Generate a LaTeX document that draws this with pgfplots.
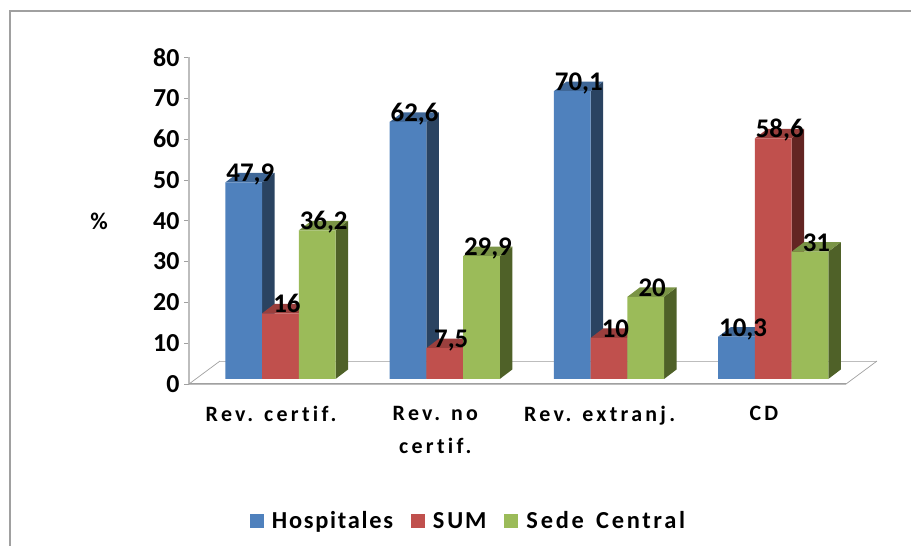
\documentclass[border=0pt]{standalone}
\usepackage{pgfplots}
\usepackage{pgfplotstable}
\usepackage{fontspec}
\pgfplotsset{compat=1.18}
\setmainfont{Carlito}
\newfontfamily\spaced[LetterSpace=15,Ligatures=NoCommon]{Carlito}
\newfontfamily\legfont[LetterSpace=7,Ligatures=NoCommon]{Carlito}
\newfontfamily\legwide[LetterSpace=11,Ligatures=NoCommon]{Carlito}
\definecolor{hf}{HTML}{4F81BD}\definecolor{hs}{HTML}{2A4361}\definecolor{ht}{HTML}{3F6797}
\definecolor{sf}{HTML}{C0504D}\definecolor{ss}{HTML}{632523}\definecolor{st}{HTML}{9A3F3D}
\definecolor{cf}{HTML}{9BBB59}\definecolor{cs}{HTML}{4F6128}\definecolor{ct}{HTML}{7A9446}
\definecolor{fr}{HTML}{A0A0A0}\definecolor{ax}{HTML}{BDBDBD}
\pgfplotstableread{
x hosp sum sede
0 47.9 16 36.2
1 62.6 7.5 29.9
2 70.1 10 20
3 10.3 58.6 31
}\datatable
\def\w{0.1117}\def\dx{0.076}\def\dy{2.31}
\newcommand\faces[4]{%
 \pgfmathsetmacro\xr{#1+\w}\pgfmathsetmacro\xb{#1+\w+\dx}%
 \pgfmathsetmacro\xl{#1-\w}\pgfmathsetmacro\xm{#1-\w+\dx}%
 \pgfmathsetmacro\yt{#2+\dy}%
 \edef\tmp{\noexpand\addplot[fill=#3,draw=none,forget plot] coordinates {(\xr,0)(\xb,\dy)(\xb,\yt)(\xr,#2)} --cycle;
 \noexpand\addplot[fill=#4,draw=none,forget plot] coordinates {(\xl,#2)(\xr,#2)(\xb,\yt)(\xm,\yt)} --cycle;}\tmp}
\begin{document}
\begin{tikzpicture}
\useasboundingbox (0,0) rectangle (911bp,546bp);
\draw[fr,line width=2bp] (10bp,0) -- (10bp,535bp) -- (911bp,535bp);
% base axis
\begin{axis}[at={(189bp,162bp)},anchor=south west,width=657bp,height=326.5bp,scale only axis,
 xmin=-0.5,xmax=3.5,ymin=0,ymax=80,
 axis lines=left,axis line style={-,ax,line width=1.3bp},clip=false,
 ytick={0,10,...,80},
 xtick={0,1,2,3},
 xticklabels={{\spaced\bfseries Rev. certif.},{\spaced\bfseries Rev. no\\[6bp]\spaced\bfseries certif.},{\spaced\bfseries Rev. extranj.},{\spaced\bfseries CD}},
 extra x ticks={-0.5,0.5,1.5,2.5,3.5},extra x tick labels={},
 extra x tick style={major tick length=5bp,tick style={color=fr,line width=0.7bp}},
 major x tick style={draw=none},
 y tick style={color=fr,line width=0.7bp},
 major tick length=5bp,tick align=outside,
 tick pos=left,
 xticklabel style={font=\fontsize{22}{27}\selectfont,align=center,yshift=-14bp,anchor=north},
 yticklabel style={font=\fontsize{26}{26}\selectfont\bfseries,xshift=-1bp},
 /pgf/number format/assume math mode=true,
 ylabel={\%},ylabel style={font=\fontsize{24}{24}\selectfont\bfseries,rotate=-90,at={(axis description cs:-0.137,0.499)},anchor=center},
]
\addplot[draw=fr,line width=0.7bp,forget plot] coordinates {(-0.5,0) (-0.3113,5.63)};
\addplot[draw=ax,line width=1bp,forget plot] coordinates {(-0.3113,5.63) (3.6887,5.63)};
\addplot[draw=fr,line width=0.7bp,forget plot] coordinates {(3.5,0) (3.6887,5.63)};
\addplot[draw=fr,line width=1bp,forget plot] coordinates {(-0.5,0) (3.5,0)};
\end{axis}
% bars
\begin{axis}[at={(189bp,162bp)},anchor=south west,width=657bp,height=326.5bp,scale only axis,
 xmin=-0.557,xmax=3.443,ymin=-1.218,ymax=78.3,hide axis,clip=false,
 /pgf/number format/use comma,
 /pgf/number format/.cd,fixed,precision=1,/pgfplots/.cd,
 legend columns=3,
 legend style={at={(axis description cs:0.4254,-0.4196)},anchor=center,draw=none,fill=none,
  font=\fontsize{24.5}{26}\selectfont\legfont\bfseries,
  /tikz/every even column/.append style={column sep=16bp},
  /tikz/every odd column/.append style={column sep=6bp}},
 legend image code/.code={\fill[#1] (0bp,-7bp) rectangle (14bp,7bp);},
]
\faces{-0.2234}{47.9}{hs}{ht}\faces{0.7766}{62.6}{hs}{ht}\faces{1.7766}{70.1}{hs}{ht}\faces{2.7766}{10.3}{hs}{ht}
\addplot[ybar,bar width=0.2234,bar shift=-0.2234,fill=hf,draw=none] table[x=x,y=hosp] {\datatable};
\addlegendentry{Hospitales}
\faces{0}{16}{ss}{st}\faces{1}{7.5}{ss}{st}\faces{2}{10}{ss}{st}\faces{3}{58.6}{ss}{st}
\addplot[ybar,bar width=0.2234,bar shift=0,fill=sf,draw=none] table[x=x,y=sum] {\datatable};
\addlegendentry{S\kern3bp UM}
\faces{0.2234}{36.2}{cs}{ct}\faces{1.2234}{29.9}{cs}{ct}\faces{2.2234}{20}{cs}{ct}\faces{3.2234}{31}{cs}{ct}
\addplot[ybar,bar width=0.2234,bar shift=0.2234,fill=cf,draw=none] table[x=x,y=sede] {\datatable};
\addlegendentry{\legwide\bfseries S\kern3bp ede\kern4bp{} Central}
\pgfplotsset{lab/.style={draw=none,mark=none,forget plot,nodes near coords,point meta=y,
  nodes near coords style={font=\fontsize{27}{27}\selectfont\bfseries,anchor=base,xshift=6.5bp,yshift=0.5bp,inner sep=0pt,text=black,
   /pgf/number format/assume math mode=true}}}
\addplot[lab] table[x expr=\thisrow{x}-0.2234,y=hosp] {\datatable};
\addplot[lab] table[x=x,y=sum] {\datatable};
\addplot[lab] table[x expr=\thisrow{x}+0.2234,y=sede] {\datatable};
\end{axis}
\end{tikzpicture}
\end{document}
